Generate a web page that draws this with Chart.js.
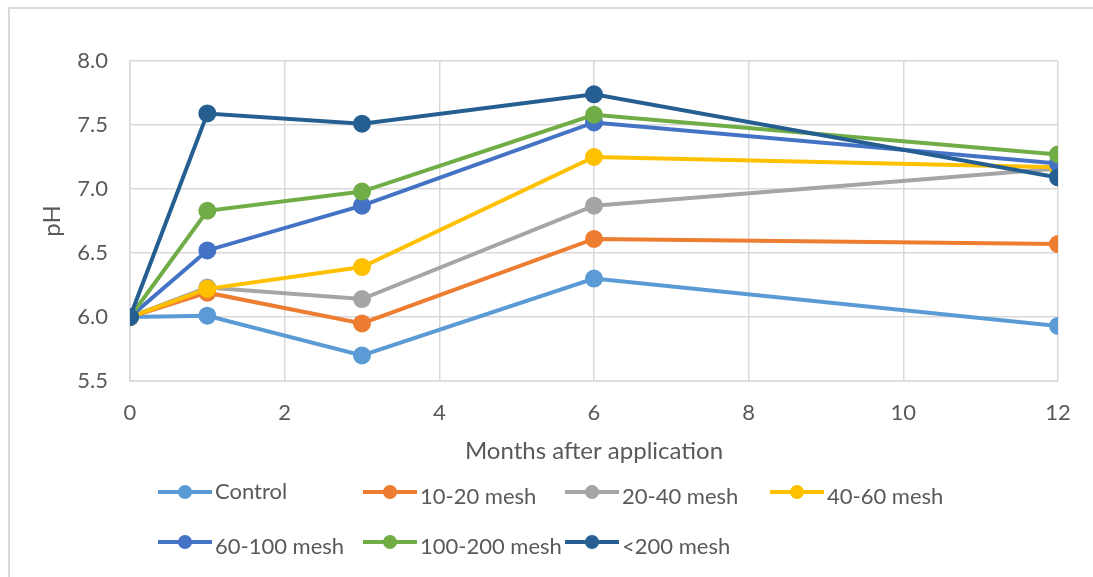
<!DOCTYPE html>
<html>
<head>
<meta charset="utf-8">
<script src="https://cdn.jsdelivr.net/npm/chart.js@4.4.1/dist/chart.umd.min.js"></script>
<style>
  html, body { margin: 0; padding: 0; background: #fff; }
  #frame {
    position: absolute; left: 8px; top: 7px; width: 1085px; height: 570px;
    border-top: 2px solid #d9d9d9; border-left: 2px solid #d9d9d9;
  }
  #wrap { position: absolute; left: 0; top: 0; width: 1093px; height: 577px; }
</style>
</head>
<body>
<div id="frame"></div>
<div id="wrap"><canvas id="phChart" width="1093" height="577"></canvas></div>
<script>
// Months after application
const months = [0, 1, 3, 6, 12];

// pH per treatment
const control = [6.0, 6.01, 5.7, 6.3, 5.93];
const mesh10to20 = [6.0, 6.19, 5.95, 6.61, 6.57];
const mesh20to40 = [6.0, 6.23, 6.14, 6.87, 7.16];
const mesh40to60 = [6.0, 6.22, 6.39, 7.25, 7.17];
const mesh60to100 = [6.0, 6.52, 6.87, 7.52, 7.2];
const mesh100to200 = [6.0, 6.83, 6.98, 7.58, 7.27];
const meshUnder200 = [6.0, 7.59, 7.51, 7.74, 7.09];

const seriesNames = ["Control", "10-20 mesh", "20-40 mesh", "40-60 mesh", "60-100 mesh", "100-200 mesh", "<200 mesh"];
const seriesValues = [control, mesh10to20, mesh20to40, mesh40to60, mesh60to100, mesh100to200, meshUnder200];
const seriesColors = ["#5B9BD5", "#ED7D31", "#A5A5A5", "#FFC000", "#4472C4", "#70AD47", "#255E91"];

const xTicks = [0, 2, 4, 6, 8, 10, 12];
const yTicks = [5.5, 6.0, 6.5, 7.0, 7.5, 8.0];

const FONT = "Lato, 'Open Sans', sans-serif";
const TEXT = "#595959";
const GRID = "#d9d9d9";

// Legend drawn in a fixed grid like the original (4 + 3 items)
const legendGrid = {
  id: "legendGrid",
  afterDraw(chart) {
    const ctx = chart.ctx;
    const cols = [158, 363, 565, 770];
    const rows = [492, 542];
    ctx.save();
    chart.data.datasets.forEach((ds, i) => {
      const x = cols[i % 4];
      const y = rows[Math.floor(i / 4)];
      ctx.strokeStyle = ds.borderColor;
      ctx.lineWidth = 4;
      ctx.beginPath();
      ctx.moveTo(x, y);
      ctx.lineTo(x + 54, y);
      ctx.stroke();
      ctx.fillStyle = ds.borderColor;
      ctx.beginPath();
      ctx.arc(x + 27, y, 7, 0, Math.PI * 2);
      ctx.fill();
      ctx.fillStyle = TEXT;
      ctx.font = "22px " + FONT;
      ctx.textBaseline = "middle";
      ctx.fillText(ds.label, x + 57, y + (i === 0 ? 0 : 5));
    });
    ctx.restore();
  }
};

const datasets = seriesNames.map((name, i) => ({
  label: name,
  data: months.map((m, j) => ({ x: m, y: seriesValues[i][j] })),
  borderColor: seriesColors[i],
  backgroundColor: seriesColors[i],
  pointBackgroundColor: seriesColors[i],
  pointBorderColor: seriesColors[i],
  borderWidth: 4,
  pointRadius: 7,
  pointHoverRadius: 7,
  tension: 0,
  order: seriesNames.length - i
}));

new Chart(document.getElementById("phChart"), {
  type: "line",
  data: { datasets },
  options: {
    responsive: false,
    animation: false,
    layout: { padding: { left: 0, top: 61, right: 35, bottom: 107 } },
    plugins: {
      legend: { display: false },
      tooltip: { enabled: false }
    },
    scales: {
      x: {
        type: "linear",
        min: 0,
        max: 12,
        afterBuildTicks: (scale) => { scale.ticks = xTicks.map(v => ({ value: v })); },
        grid: { color: GRID, lineWidth: 1.5, drawTicks: false },
        border: { color: GRID, width: 1.5 },
        ticks: { color: TEXT, font: { family: FONT, size: 22 }, padding: 19 },
        title: {
          display: true,
          text: "Months after application",
          color: TEXT,
          font: { family: FONT, size: 24 },
          padding: { top: 6 }
        },
        afterFit: (scale) => { scale.height = 89; }
      },
      y: {
        min: 5.5,
        max: 8.0,
        afterBuildTicks: (scale) => { scale.ticks = yTicks.map(v => ({ value: v })); },
        grid: { color: GRID, lineWidth: 1.5, drawTicks: false },
        border: { color: GRID, width: 1.5 },
        ticks: {
          color: TEXT,
          font: { family: FONT, size: 22 },
          padding: 22,
          callback: (v) => v.toFixed(1)
        },
        title: {
          display: true,
          text: "pH",
          color: TEXT,
          font: { family: FONT, size: 24 },
          padding: { top: 38, bottom: 0 }
        },
        afterFit: (scale) => { scale.width = 130; }
      }
    }
  },
  plugins: [legendGrid]
});
</script>
</body>
</html>
